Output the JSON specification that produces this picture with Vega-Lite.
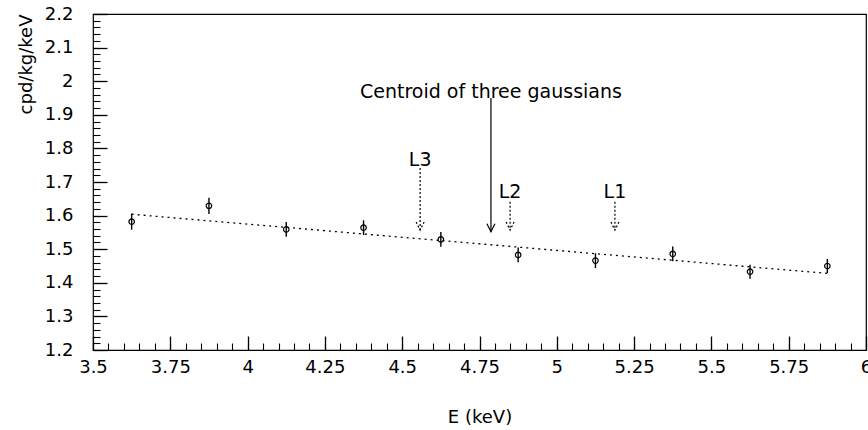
{
  "$schema": "https://vega.github.io/schema/vega-lite/v6.json",
  "width": 773,
  "height": 336,
  "autosize": {"type": "none"},
  "padding": {"left": 93, "top": 14, "right": 2, "bottom": 80},
  "background": "white",
  "config": {
    "view": {"stroke": "black", "strokeWidth": 1.2},
    "axis": {
      "labelFont": "DejaVu Sans",
      "titleFont": "DejaVu Sans",
      "labelFontSize": 18,
      "titleFontSize": 18,
      "labelColor": "black",
      "titleColor": "black",
      "titleFontWeight": "normal",
      "domain": false,
      "tickColor": "black",
      "ticks": true,
      "zindex": 1,
      "grid": false
    }
  },
  "datasets": {
    "fit": [
      {"E": 3.625, "rate": 1.604},
      {"E": 5.875, "rate": 1.428}
    ],
    "points": [
      {"E": 3.625, "rate": 1.582, "lo": 1.558, "hi": 1.606},
      {"E": 3.875, "rate": 1.629, "lo": 1.605, "hi": 1.653},
      {"E": 4.125, "rate": 1.559, "lo": 1.537, "hi": 1.581},
      {"E": 4.375, "rate": 1.564, "lo": 1.542, "hi": 1.586},
      {"E": 4.625, "rate": 1.529, "lo": 1.507, "hi": 1.551},
      {"E": 4.875, "rate": 1.483, "lo": 1.461, "hi": 1.505},
      {"E": 5.125, "rate": 1.466, "lo": 1.444, "hi": 1.488},
      {"E": 5.375, "rate": 1.486, "lo": 1.464, "hi": 1.508},
      {"E": 5.625, "rate": 1.433, "lo": 1.412, "hi": 1.454},
      {"E": 5.875, "rate": 1.45, "lo": 1.429, "hi": 1.471}
    ],
    "arrows": [
      {"name": "Centroid of three gaussians", "E": 4.787, "top": 1.95, "tip": 1.552, "labelY": 1.95, "style": "solid"},
      {"name": "L3", "E": 4.558, "top": 1.742, "tip": 1.557, "labelY": 1.748, "style": "dotted"},
      {"name": "L2", "E": 4.849, "top": 1.641, "tip": 1.557, "labelY": 1.652, "style": "dotted"},
      {"name": "L1", "E": 5.188, "top": 1.641, "tip": 1.557, "labelY": 1.652, "style": "dotted"}
    ]
  },
  "layer": [
    {
      "data": {"name": "fit"},
      "mark": {"type": "line", "color": "black", "strokeWidth": 1.3, "strokeDash": [2, 4]},
      "encoding": {
        "x": {
          "field": "E", "type": "quantitative",
          "scale": {"domain": [3.5, 6], "nice": false, "zero": false},
          "axis": {
            "orient": "bottom",
            "offset": -14,
            "values": [3.5, 3.75, 4, 4.25, 4.5, 4.75, 5, 5.25, 5.5, 5.75, 6],
            "format": ".2~f",
            "tickSize": 14,
            "tickWidth": 1.3,
            "labelPadding": 8,
            "labelFlush": false,
            "labelOverlap": false,
            "title": "E (keV)",
            "titlePadding": 32
          }
        },
        "y": {
          "field": "rate", "type": "quantitative",
          "scale": {"domain": [1.2, 2.2], "nice": false, "zero": false},
          "axis": {
            "orient": "left",
            "offset": -14,
            "values": [1.2, 1.3, 1.4, 1.5, 1.6, 1.7, 1.8, 1.9, 2, 2.1, 2.2],
            "format": ".1~f",
            "tickSize": 14,
            "tickWidth": 1.3,
            "labelPadding": 20,
            "labelFlush": false,
            "labelOverlap": false,
            "title": "cpd/kg/keV",
            "titleAnchor": "end",
            "titlePadding": 9
          }
        }
      }
    },
    {
      "data": {"name": "points"},
      "mark": {"type": "rule", "color": "black", "strokeWidth": 1.4},
      "encoding": {
        "x": {
          "field": "E", "type": "quantitative",
          "axis": {
            "orient": "bottom",
            "offset": -7,
            "values": [3.5, 3.55, 3.6, 3.65, 3.7, 3.75, 3.8, 3.85, 3.9, 3.95, 4, 4.05, 4.1, 4.15, 4.2, 4.25, 4.3, 4.35, 4.4, 4.45, 4.5, 4.55, 4.6, 4.65, 4.7, 4.75, 4.8, 4.85, 4.9, 4.95, 5, 5.05, 5.1, 5.15, 5.2, 5.25, 5.3, 5.35, 5.4, 5.45, 5.5, 5.55, 5.6, 5.65, 5.7, 5.75, 5.8, 5.85, 5.9, 5.95, 6],
            "tickSize": 7,
            "tickWidth": 1.1,
            "labels": false,
            "title": null
          }
        },
        "y": {
          "field": "lo", "type": "quantitative",
          "axis": {
            "orient": "left",
            "offset": -7,
            "values": [1.2, 1.22, 1.24, 1.26, 1.28, 1.3, 1.32, 1.34, 1.36, 1.38, 1.4, 1.42, 1.44, 1.46, 1.48, 1.5, 1.52, 1.54, 1.56, 1.58, 1.6, 1.62, 1.64, 1.66, 1.68, 1.7, 1.72, 1.74, 1.76, 1.78, 1.8, 1.82, 1.84, 1.86, 1.88, 1.9, 1.92, 1.94, 1.96, 1.98, 2, 2.02, 2.04, 2.06, 2.08, 2.1, 2.12, 2.14, 2.16, 2.18, 2.2],
            "tickSize": 7,
            "tickWidth": 1.1,
            "labels": false,
            "title": null
          }
        },
        "y2": {"field": "hi"}
      }
    },
    {
      "data": {"name": "points"},
      "mark": {"type": "point", "shape": "circle", "filled": false, "color": "black", "size": 30, "strokeWidth": 1.2, "opacity": 1},
      "encoding": {
        "x": {"field": "E", "type": "quantitative", "axis": null},
        "y": {"field": "rate", "type": "quantitative", "axis": null}
      }
    },
    {
      "data": {"name": "arrows"},
      "mark": {"type": "rule", "color": "black", "strokeWidth": 1.2},
      "encoding": {
        "x": {"field": "E", "type": "quantitative", "axis": null},
        "y": {"field": "top", "type": "quantitative", "axis": null},
        "y2": {"field": "tip"},
        "strokeDash": {
          "field": "style", "type": "nominal",
          "scale": {"domain": ["solid", "dotted"], "range": [[1, 0], [2, 2]]},
          "legend": null
        }
      }
    },
    {
      "data": {"name": "arrows"},
      "mark": {"type": "point", "shape": "M-1,-2L0,0L1,-2", "filled": false, "color": "black", "size": 64, "strokeWidth": 1.2, "opacity": 1},
      "encoding": {
        "x": {"field": "E", "type": "quantitative", "axis": null},
        "y": {"field": "tip", "type": "quantitative", "axis": null},
        "strokeDash": {
          "field": "style", "type": "nominal",
          "scale": {"domain": ["solid", "dotted"], "range": [[1, 0], [2, 2]]},
          "legend": null
        }
      }
    },
    {
      "data": {"name": "arrows"},
      "mark": {"type": "text", "font": "DejaVu Sans", "fontSize": 19, "color": "black", "baseline": "alphabetic", "align": "center"},
      "encoding": {
        "x": {"field": "E", "type": "quantitative", "axis": null},
        "y": {"field": "labelY", "type": "quantitative", "axis": null},
        "text": {"field": "name"}
      }
    }
  ],
  "resolve": {"axis": {"x": "independent", "y": "independent"}}
}
